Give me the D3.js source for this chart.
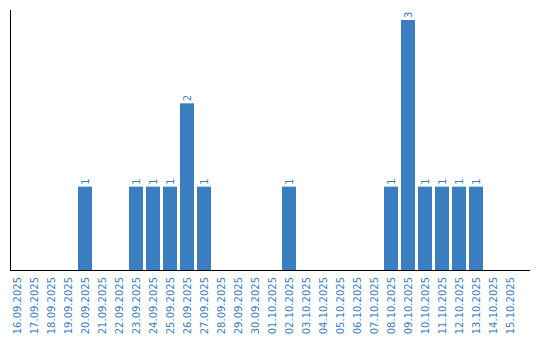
<!DOCTYPE html>
<html>
<head>
<meta charset="utf-8">
<script src="https://cdn.jsdelivr.net/npm/d3@7"></script>
<style>
  body { margin: 0; background: #fff; }
  text { font-family: "DejaVu Sans", Verdana, sans-serif; }
</style>
</head>
<body>
<div id="chart"></div>
<script>
var dates = ["16.09.2025", "17.09.2025", "18.09.2025", "19.09.2025", "20.09.2025",
  "21.09.2025", "22.09.2025", "23.09.2025", "24.09.2025", "25.09.2025",
  "26.09.2025", "27.09.2025", "28.09.2025", "29.09.2025", "30.09.2025",
  "01.10.2025", "02.10.2025", "03.10.2025", "04.10.2025", "05.10.2025",
  "06.10.2025", "07.10.2025", "08.10.2025", "09.10.2025", "10.10.2025",
  "11.10.2025", "12.10.2025", "13.10.2025", "14.10.2025", "15.10.2025"];
var counts = [0, 0, 0, 0, 1, 0, 0, 1, 1, 1, 2, 1, 0, 0, 0,
  0, 1, 0, 0, 0, 0, 0, 1, 3, 1, 1, 1, 1, 0, 0];

(function chart() {
  var width = 540, height = 340;
  var blue = "#3b7dc1";

  var svg = d3.select("#chart").append("svg")
    .attr("width", width)
    .attr("height", height);

  var x = d3.scaleBand()
    .domain(dates)
    .range([10, 520])
    .paddingInner(3 / 17)
    .paddingOuter(1.5 / 17)
    .align(0);

  var y = d3.scaleLinear()
    .domain([0, d3.max(counts)])
    .range([270, 20]);

  var data = dates.map(function(d, i) { return { date: d, n: counts[i] }; });

  // bars
  svg.selectAll(".bar")
    .data(data.filter(function(d) { return d.n > 0; }))
    .enter().append("rect")
    .attr("class", "bar")
    .attr("x", function(d) { return x(d.date); })
    .attr("y", function(d) { return y(d.n); })
    .attr("width", x.bandwidth())
    .attr("height", function(d) { return y(0) - y(d.n); })
    .attr("fill", blue);

  // value labels
  svg.selectAll(".val")
    .data(data.filter(function(d) { return d.n > 0; }))
    .enter().append("text")
    .attr("class", "val")
    .attr("transform", function(d) {
      return "translate(" + (x(d.date) + x.bandwidth() / 2) + "," + (y(d.n) - 2) + ") rotate(-90)";
    })
    .attr("dy", "0.35em")
    .attr("text-anchor", "start")
    .attr("font-size", "10px")
    .attr("fill", blue)
    .text(function(d) { return d.n; });

  // x axis
  var xAxis = svg.append("g")
    .attr("transform", "translate(0,270)")
    .call(d3.axisBottom(x).tickSize(0).tickPadding(0));
  xAxis.select(".domain").remove();
  xAxis.append("line")
    .attr("x1", 10).attr("x2", 530)
    .attr("y1", 0.5).attr("y2", 0.5)
    .attr("stroke", "#000");
  xAxis.selectAll(".tick text")
    .attr("transform", "translate(0,7) rotate(-90)")
    .attr("x", 0)
    .attr("y", 0)
    .attr("dy", "0.35em")
    .attr("text-anchor", "end")
    .attr("font-size", "10px")
    .attr("font-family", "DejaVu Sans, Verdana, sans-serif")
    .attr("fill", blue);

  // y axis line
  svg.append("line")
    .attr("x1", 10.5).attr("x2", 10.5)
    .attr("y1", 10).attr("y2", 270)
    .attr("stroke", "#000");
})();
</script>
</body>
</html>
